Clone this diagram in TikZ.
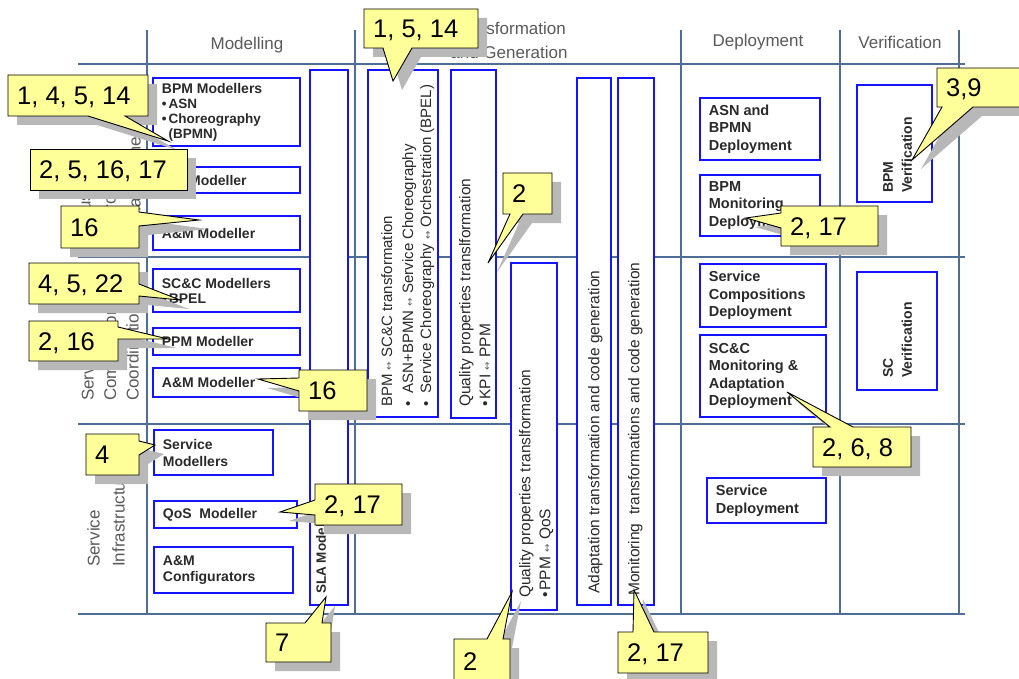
\documentclass[tikz,border=0pt]{standalone}
\usepackage{fontspec}
\setmainfont{Liberation Sans}
\newfontfamily\djv{DejaVu Sans}
\usetikzlibrary{fit}
\definecolor{gridc}{HTML}{4F6E96}
\definecolor{boxc}{HTML}{1414FF}
\definecolor{txtc}{HTML}{2A2A2A}
\definecolor{hdrc}{HTML}{5A5A5A}
\definecolor{callc}{HTML}{FFFF99}
\definecolor{shadc}{HTML}{B8B8B8}
\newcommand\arw{{\color{gray!80!black}\djv\fontsize{10}{10}\selectfont ↔}}
\newcommand\mycallout[4]{%
  \fill[shad, shift={(9,9)}] #2;
  \draw[call] #2;
  \node[ctext] (#1) at (#3) {#4};}
\tikzset{
  gline/.style={draw=gridc, line width=2.4pt},
  bbox/.style={draw=boxc, line width=2.6pt, fill=white, inner sep=0pt},
  mtext/.style={font=\bfseries\fontsize{14}{16}\selectfont, text=txtc, align=left, inner sep=0pt, anchor=west},
  dtext/.style={font=\bfseries\fontsize{14.5}{17.5}\selectfont, text=txtc, align=left, inner sep=0pt, anchor=west},
  vtext/.style={font=\fontsize{15.5}{20}\selectfont, text=txtc, align=left, inner sep=0pt, rotate=90, anchor=north west},
  vbtext/.style={font=\bfseries\fontsize{14}{19}\selectfont, text=txtc, align=left, inner sep=0pt, rotate=90, anchor=north west},
  hdr/.style={font=\fontsize{17}{24}\selectfont, text=hdrc, align=center, inner sep=0pt},
  rowlab/.style={font=\fontsize{17}{24}\selectfont, text=hdrc, align=left, inner sep=0pt, rotate=90, anchor=north west},
  call/.style={fill=callc, draw=black, line width=0.9pt, line join=miter},
  shad/.style={fill=shadc},
  ctext/.style={font=\fontsize{25.5}{27}\selectfont, inner sep=0pt, anchor=base west},
}
\begin{document}
\begin{tikzpicture}[x=1pt,y=-1pt]
\useasboundingbox[fill=white] (0,0) rectangle (1019,679);
% grid
\foreach \x in {147,355,681,840,959} \draw[gline] (\x,30) -- (\x,614);
\foreach \y in {64,257,424,614} \draw[gline] (78,\y) -- (965,\y);
% headers
\node[hdr] (hmod) at (247,45) {Modelling};
\node[hdr] (htr) at (509,40) {Transformation\\and Generation};
\node[hdr] (hdep) at (758,42) {Deployment};
\node[hdr] (hver) at (900,42) {Verification};
% row labels
\node[rowlab, font=\fontsize{17}{25}\selectfont] (r1) at (78,222) {Business\\Process\\Management};
\node[rowlab, font=\fontsize{17}{22.5}\selectfont] (r2) at (81,401) {Service\\Composition and\\Coordination};
\node[rowlab, font=\fontsize{17}{25}\selectfont] (r3) at (87,567) {Service\\Infrastructure};
% modelling boxes
\node[bbox, fit={(153,78) (300,146)}] (m1) {};
\node[mtext, font=\bfseries\fontsize{13.5}{15}\selectfont] (m1t) at ([xshift=10pt]m1.west) {{\fontsize{14}{15}\selectfont BPM Modellers}\\•\hspace{2pt}ASN\\•\hspace{2pt}Choreography\\\hphantom{•\hspace{2pt}}(BPMN)};
\node[bbox, fit={(153,167) (300,193)}] (m2) {};
\node[mtext] (m2t) at ([xshift=10pt]m2.west) {KPI Modeller};
\node[bbox, fit={(153,216) (300,250)}] (m3) {};
\node[mtext] (m3t) at ([xshift=10pt]m3.west) {A\&M Modeller};
\node[bbox, fit={(153,269) (300,312)}] (m4) {};
\node[mtext, font=\bfseries\fontsize{14}{15}\selectfont] (m4t) at ([xshift=10pt]m4.west) {SC\&C Modellers\\•\hspace{2pt}BPEL};
\node[bbox, fit={(153,328) (300,355)}] (m5) {};
\node[mtext] (m5t) at ([xshift=10pt]m5.west) {PPM Modeller};
\node[bbox, fit={(153,368) (300,397)}] (m6) {};
\node[mtext] (m6t) at ([xshift=10pt]m6.west) {A\&M Modeller};
\node[bbox, fit={(154,430) (273,475)}] (m7) {};
\node[mtext, font=\bfseries\fontsize{14}{17}\selectfont] (m7t) at ([xshift=10pt]m7.west) {Service\\Modellers};
\node[bbox, fit={(154,501) (297,528)}] (m8) {};
\node[mtext] (m8t) at ([xshift=10pt]m8.west) {QoS\ \ Modeller};
\node[bbox, fit={(154,547) (293,593)}] (m9) {};
\node[mtext] (m9t) at ([xshift=10pt]m9.west) {A\&M\\Configurators};
\node[bbox, fit={(310,70) (348,605)}] (sla) {};
\node[vbtext, font=\bfseries\fontsize{13.5}{16}\selectfont] (slat) at (316,594) {SLA Modeller};
% transformation boxes
\node[bbox, fit={(368,70) (438,417)}] (ta) {};
\node[vtext, font=\fontsize{15}{18}\selectfont] (tat) at (381,407) {BPM \arw{} SC\&C transformation\\[3pt]•\ \ ASN+BPMN \arw{} Service Choreography\\•\ \ Service Choreography \arw{} Orchestration (BPEL)};
\node[bbox, fit={(451,70) (496,418)}] (tb) {};
\node[vtext] (tbt) at (459,407) {Quality properties translformation\\•\hspace{2pt}KPI \arw{} PPM};
\node[bbox, fit={(511,263) (557,610)}] (tc) {};
\node[vtext] (tct) at (519,598) {Quality properties translformation\\•\hspace{2pt}PPM \arw{} QoS};
\node[bbox, fit={(577,78) (611,605)}] (td) {};
\node[vtext] (tdt) at (588,594) {Adaptation transformation and code generation};
\node[bbox, fit={(618,78) (654,605)}] (te) {};
\node[vtext] (tet) at (628,596) {Monitoring\ \ transformations and code generation};
% deployment boxes
\node[bbox, fit={(700,98) (820,160)}] (d1) {};
\node[dtext] (d1t) at ([xshift=10pt]d1.west) {ASN and\\BPMN\\Deployment};
\node[bbox, fit={(700,175) (820,236)}] (d2) {};
\node[dtext] (d2t) at ([xshift=10pt]d2.west) {BPM\\Monitoring\\Deployment};
\node[bbox, fit={(700,264) (826,327)}] (d3) {};
\node[dtext] (d3t) at ([xshift=10pt]d3.west) {Service\\Compositions\\Deployment};
\node[bbox, fit={(700,335) (826,417)}] (d4) {};
\node[dtext] (d4t) at ([xshift=10pt]d4.west) {SC\&C\\Monitoring \&\\Adaptation\\Deployment};
\node[bbox, fit={(707,478) (826,523)}] (d5) {};
\node[dtext] (d5t) at ([xshift=10pt]d5.west) {Service\\Deployment};
% verification boxes
\node[bbox, fit={(857,85) (932,202)}] (v1) {};
\node[vbtext] (v1t) at (883,193) {BPM\\Verification};
\node[bbox, fit={(857,272) (937,390)}] (v2) {};
\node[vbtext] (v2t) at (883,378) {SC\\Verification};
% callouts
\mycallout{c1}{(8,75)--(148,75)--(148,116)--(125,116)--(168,141)--(88,116)--(8,116)--cycle}{17,104.8}{1, 4, 5, 14}
\mycallout{c2}{(30,149)--(187,149)--(187,190)--(30,190)--cycle}{39,178.8}{2, 5, 16, 17}
\mycallout{c3}{(61,206)--(139,206)--(139,212)--(199,220)--(139,226)--(139,248)--(61,248)--cycle}{70,236.3}{16}
\mycallout{c4}{(29,263)--(139,263)--(139,284)--(180,300)--(139,296)--(139,304)--(29,304)--cycle}{38,292.8}{4, 5, 22}
\mycallout{c5}{(29,321)--(118,321)--(118,327)--(168,339)--(118,339)--(118,361)--(29,361)--cycle}{38,350.3}{2, 16}
\mycallout{c6}{(299,370)--(367,370)--(367,411)--(299,411)--(299,391)--(258,379)--(299,378)--cycle}{308,399.8}{16}
\mycallout{c7}{(86,434)--(139,434)--(139,441)--(155,445)--(139,455)--(139,475)--(86,475)--cycle}{95,463.8}{4}
\mycallout{c8}{(315,484)--(402,484)--(402,525)--(315,525)--(315,515)--(280,512)--(315,500)--cycle}{324,513.8}{2, 17}
\mycallout{c9}{(266,623)--(305,623)--(326,597)--(322,623)--(331,623)--(331,662)--(266,662)--cycle}{275,651.8}{7}
\mycallout{c10}{(364,9)--(478,9)--(478,48)--(412,48)--(393,81)--(383,48)--(364,48)--cycle}{373,37.8}{1, 5, 14}
\mycallout{c11}{(503,173)--(552,173)--(552,214)--(523,214)--(488,263)--(510,214)--(503,214)--cycle}{512,202.8}{2}
\mycallout{c12}{(454,639)--(487,639)--(512,592)--(503,639)--(510,639)--(510,690)--(454,690)--cycle}{463,670}{2}
\mycallout{c13}{(618,632)--(633,632)--(634,590)--(654,632)--(708,632)--(708,673)--(618,673)--cycle}{627,661.8}{2, 17}
\mycallout{c14}{(937,68)--(1030,68)--(1030,107)--(973,107)--(912,160)--(942,107)--(937,107)--cycle}{946,96.8}{3,9}
\mycallout{c15}{(781,206)--(878,206)--(878,246)--(781,246)--(781,228)--(746,218)--(781,213)--cycle}{790,235.3}{2, 17}
\mycallout{c16}{(813,427)--(830,427)--(787,392)--(853,427)--(911,427)--(911,467)--(813,467)--cycle}{822,456.3}{2, 6, 8}
\end{tikzpicture}
\end{document}
